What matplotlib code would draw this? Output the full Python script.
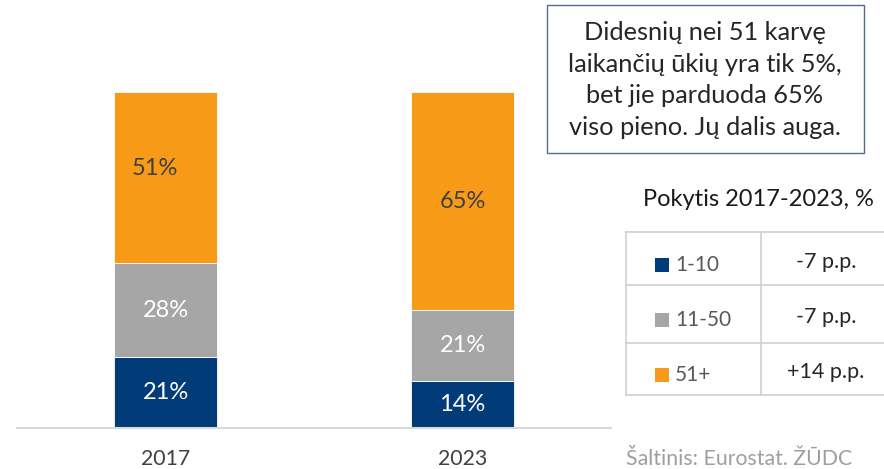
import matplotlib
matplotlib.use("Agg")
import matplotlib.pyplot as plt
from matplotlib.patches import Rectangle
from matplotlib.lines import Line2D

plt.rcParams['font.family'] = ['Lato', 'DejaVu Sans']

years = ["2017", "2023"]
groups = ["1-10", "11-50", "51+"]
shares = {
    "1-10": [21, 14],
    "11-50": [28, 21],
    "51+": [51, 65],
}
colors = {"1-10": "#023C78", "11-50": "#A6A6A6", "51+": "#F79A17"}
label_colors = {"1-10": "white", "11-50": "white", "51+": "#404040"}
changes = ["-7 p.p.", "-7 p.p.", "+14 p.p."]
note_text = "Didesnių nei 51 karvę\nlaikančių ūkių yra tik 5%,\nbet jie parduoda 65%\nviso pieno. Jų dalis auga."
table_title = "Pokytis 2017-2023, %"
source = "Šaltinis: Eurostat. ŽŪDC"

W, H = 884, 469
fig = plt.figure(figsize=(W / 100, H / 100), dpi=100)

# main bar axes (pixel geometry: x 17..611, y 92..428)
ax = fig.add_axes([17 / W, (H - 428) / H, (611 - 17) / W, (428 - 92) / H])
xpos = [0, 1]
bw = 103 / 297
bottoms = [0, 0]
for g in groups:
    vals = shares[g]
    ax.bar(xpos, vals, width=bw, bottom=bottoms, color=colors[g],
           edgecolor="white", linewidth=0.6, zorder=2)
    for i, (b, v) in enumerate(zip(bottoms, vals)):
        y = b + v / 2
        x = xpos[i]
        if g == "51+" and i == 0:
            x -= 0.035
            y += 2.8
        ax.text(x, y, f"{v}%", ha="center", va="center", fontsize=17,
                color=label_colors[g], zorder=3)
    bottoms = [b + v for b, v in zip(bottoms, vals)]

ax.set_xlim(-0.5, 1.5)
ax.set_ylim(0, 100)
for s in ["top", "right", "left"]:
    ax.spines[s].set_visible(False)
ax.spines["bottom"].set_color("#D9D9D9")
ax.spines["bottom"].set_linewidth(1.5)
ax.set_yticks([])
ax.set_xticks(xpos)
ax.set_xticklabels(years, fontsize=15.3, color="#404040")
ax.tick_params(axis="x", length=0, pad=15)

# overlay axes in pixel coordinates
ov = fig.add_axes([0, 0, 1, 1], zorder=5)
ov.set_xlim(0, W)
ov.set_ylim(H, 0)
ov.axis("off")
ov.patch.set_alpha(0)

# note box
ov.add_patch(Rectangle((547, 5), 317, 148, facecolor="white",
                       edgecolor="#56698F", linewidth=1.0))
ov.text(705, 80, note_text, ha="center", va="center", fontsize=18.3,
        color="#262626", linespacing=1.45)

# table
ov.text(758, 200, table_title, ha="center", va="center", fontsize=17,
        color="#1a1a1a")
row_lines = [232, 285, 343, 395]
gc = "#CFCFCF"
for yl in row_lines:
    ov.add_line(Line2D([626, 884], [yl, yl], color=gc, linewidth=1.2))
ov.add_line(Line2D([626, 626], [232, 395], color=gc, linewidth=1.2))
ov.add_line(Line2D([761, 761], [232, 395], color=gc, linewidth=1.2))
label_y = [265, 320, 375]
for k, g in enumerate(groups):
    yc = label_y[k]
    ov.add_patch(Rectangle((655, yc - 7), 14, 14, facecolor=colors[g],
                           edgecolor="none"))
    ov.text(675, yc, g, ha="left", va="center", fontsize=15, color="#595959")
    ov.text(826, yc - 3, changes[k], ha="center", va="center", fontsize=15.5,
            color="#262626")

ov.text(626, 459, source, ha="left", va="center", fontsize=15.3, color="#9E9E9E")

fig.savefig("out.png", dpi=100)
